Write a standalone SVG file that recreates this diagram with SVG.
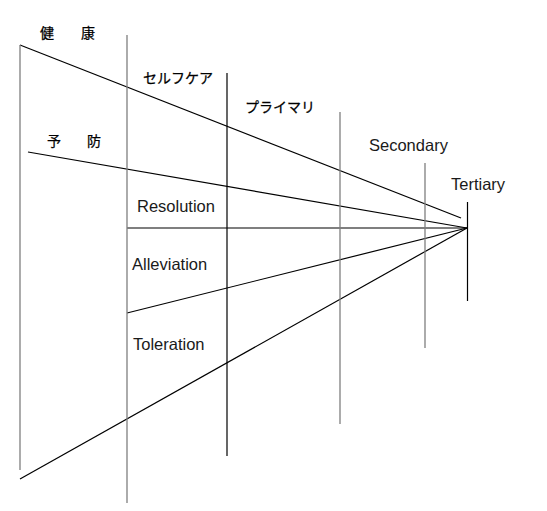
<svg xmlns="http://www.w3.org/2000/svg" width="547" height="511" viewBox="0 0 547 511">
<style>
.bg{fill:#ffffff}
.vg{stroke:#7f7f7f;stroke-width:1.3;fill:none}
.vk{stroke:#000000;stroke-width:1.2;fill:none}
.ln{stroke:#000000;stroke-width:1.2;fill:none}
.jp{font-family:"Noto Sans CJK JP","Noto Sans CJK SC",sans-serif;font-size:14px;fill:#000;stroke:#000;stroke-width:0.25}
.en{font-family:"Liberation Sans",Arial,sans-serif;font-size:16.5px;fill:#1a1a1a}
</style>
<rect class="bg" x="0" y="0" width="547" height="511"/>
<g id="connectors">
<line class="ln" x1="20" y1="45" x2="461" y2="218"/>
<line class="ln" x1="28" y1="152" x2="467" y2="228"/>
<line class="ln" x1="127" y1="228" x2="467" y2="228"/>
<line class="ln" x1="127" y1="313" x2="467" y2="228"/>
<line class="ln" x1="20" y1="479" x2="467" y2="228"/>
</g>
<g id="kenko">
<line class="vg" x1="20" y1="45" x2="20" y2="470"/>
<text class="jp" x="40" y="38">健<tspan x="81">康</tspan></text>
</g>
<g id="yobo">
<text class="jp" x="47" y="146">予<tspan x="87">防</tspan></text>
</g>
<g id="selfcare">
<line class="vg" x1="127" y1="35" x2="127" y2="503"/>
<text class="jp" x="143" y="83">セルフケア</text>
</g>
<g id="primary">
<line class="vk" x1="227" y1="73" x2="227" y2="456"/>
<text class="jp" x="245" y="112">プライマリ</text>
</g>
<g id="secondary">
<line class="vg" x1="340" y1="112" x2="340" y2="424"/>
<text class="en" x="369" y="151">Secondary</text>
</g>
<g id="tertiary-col">
<line class="vg" x1="425" y1="163" x2="425" y2="348"/>
</g>
<g id="tertiary">
<line class="vk" x1="467.5" y1="202" x2="467.5" y2="301"/>
<text class="en" x="451" y="190">Tertiary</text>
</g>
<g id="resolution">
<text class="en" x="137" y="212">Resolution</text>
</g>
<g id="alleviation">
<text class="en" x="132" y="270">Alleviation</text>
</g>
<g id="toleration">
<text class="en" x="133" y="350">Toleration</text>
</g>
</svg>
